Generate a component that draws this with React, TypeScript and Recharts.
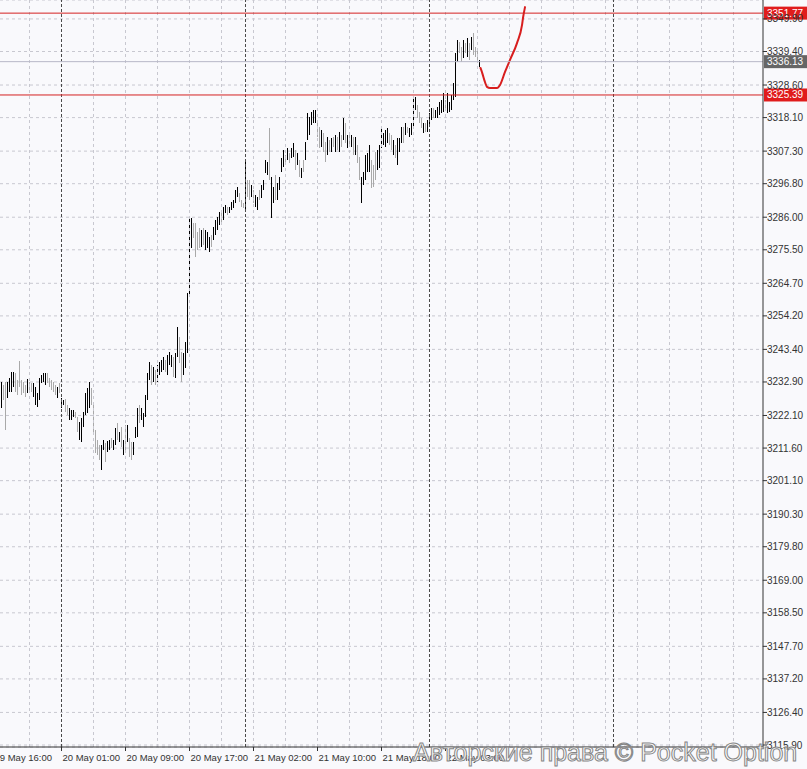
import React from "react";
import { Bar, CartesianGrid, ComposedChart, Line, ReferenceLine, XAxis, YAxis } from "recharts";

// M15 bars, index 0 = 20 May 01:00 (first visible bar is index -30)
const FIRST_BAR = -30;

const highs = [
  3232.9, 3231.9, 3232.9, 3232.9, 3234.2, 3236.1, 3236.1, 3235.8, 3233.5, 3239.6, 3233.5, 3232.9, 3231.9, 3233.8, 3232.9, 3232.6, 3232.6, 3231.3, 3229.3, 3234.2, 3235.1, 3235.8, 3235.8, 3235.8, 3234.2, 3233.5, 3232.9, 3231.9, 3231.3, 3232.6,
  3227.7, 3227.1, 3227.4, 3225.5, 3224.5, 3223.9, 3223.9, 3223.2, 3221.6, 3220.0, 3221.3, 3223.2, 3229.3, 3230.9, 3232.9, 3230.9, 3225.5, 3217.4, 3214.2, 3212.6,
  3212.6, 3214.2, 3213.2, 3213.9, 3214.2, 3214.8, 3214.2, 3218.1, 3219.7, 3216.8, 3218.4, 3214.2, 3219.0, 3219.0, 3214.8, 3213.5, 3213.5, 3218.4,
  3224.5, 3225.5, 3224.5, 3222.9, 3228.7, 3235.8, 3239.3, 3238.4, 3237.7, 3236.7, 3238.4, 3239.3, 3240.0, 3240.9, 3240.0, 3241.6, 3242.6, 3241.6, 3240.9, 3242.2, 3250.6, 3247.4, 3242.6, 3242.2, 3245.8, 3261.6, 3285.7,
  3285.7, 3284.1, 3284.1, 3281.2, 3282.5, 3281.9, 3282.5, 3281.9, 3281.2, 3279.6, 3280.3, 3282.8, 3285.1, 3286.1, 3287.7, 3287.4, 3289.3, 3289.9, 3289.3, 3289.3, 3290.9, 3291.5, 3294.8, 3295.7, 3293.8, 3291.5, 3290.6, 3304.4,
  3298.0, 3298.0, 3296.4, 3294.8, 3293.2, 3292.5, 3294.8, 3296.4, 3298.0, 3304.4, 3303.8, 3314.7, 3299.0, 3295.7, 3299.6, 3297.0, 3299.0, 3305.1, 3307.7, 3306.0, 3308.3, 3306.7, 3308.3, 3309.9, 3307.7, 3306.7, 3304.4,
  3301.9, 3304.4, 3310.2, 3319.6, 3318.3, 3319.9, 3320.5, 3320.5, 3316.7, 3315.1, 3314.1, 3313.1, 3310.2, 3311.8, 3310.9, 3311.5, 3311.8, 3312.5, 3311.8, 3313.5, 3312.5, 3318.0, 3316.4, 3312.5, 3313.1, 3312.5, 3311.8, 3311.8, 3309.3, 3305.4,
  3299.0, 3300.6, 3306.0, 3306.7, 3309.3, 3304.4, 3302.8, 3307.0, 3307.7, 3309.3, 3314.7, 3313.1, 3314.1, 3314.7, 3313.1, 3312.5, 3310.9, 3309.3, 3311.5, 3311.5, 3315.1, 3315.1, 3316.4, 3315.1, 3314.7, 3316.4, 3324.4, 3324.7, 3322.2, 3319.9,
  3318.0, 3316.4, 3316.4, 3317.3, 3319.6, 3321.2, 3321.2, 3320.5, 3321.5, 3323.1, 3323.8, 3326.0, 3323.8, 3326.0, 3323.1, 3325.4, 3329.2, 3338.9, 3343.1, 3342.5, 3340.9, 3343.1, 3342.1, 3343.8, 3342.1, 3344.1, 3345.4, 3340.9, 3339.9, 3336.7,
];

const lows = [
  3224.5, 3227.1, 3217.4, 3227.7, 3229.7, 3229.7, 3231.3, 3229.7, 3228.7, 3231.3, 3228.7, 3229.3, 3228.0, 3229.3, 3230.3, 3229.7, 3228.0, 3225.5, 3224.8, 3227.1, 3232.6, 3232.9, 3231.9, 3232.6, 3231.3, 3230.3, 3229.7, 3228.7, 3227.7, 3229.3,
  3224.5, 3225.5, 3223.2, 3222.2, 3220.6, 3220.6, 3221.6, 3221.3, 3216.8, 3214.2, 3213.5, 3218.4, 3222.2, 3222.9, 3224.5, 3225.5, 3216.8, 3210.0, 3209.4, 3207.7,
  3204.5, 3211.0, 3207.1, 3210.3, 3211.0, 3211.6, 3211.0, 3212.6, 3214.2, 3213.5, 3211.9, 3209.4, 3211.0, 3213.5, 3208.7, 3207.7, 3209.4, 3214.8,
  3215.2, 3219.7, 3220.6, 3218.4, 3221.6, 3227.1, 3233.5, 3231.9, 3232.9, 3231.9, 3232.9, 3235.1, 3236.1, 3236.7, 3236.1, 3235.1, 3238.4, 3237.7, 3234.5, 3234.2, 3240.9, 3239.0, 3232.9, 3235.1, 3237.4, 3242.2, 3260.3,
  3276.1, 3279.3, 3273.2, 3275.4, 3276.1, 3276.4, 3277.0, 3275.4, 3276.1, 3274.8, 3276.4, 3278.6, 3280.3, 3281.9, 3283.5, 3284.4, 3285.1, 3287.4, 3286.7, 3287.4, 3288.3, 3289.0, 3290.6, 3292.5, 3290.9, 3289.3, 3289.0, 3288.3,
  3292.5, 3291.5, 3292.5, 3290.6, 3289.3, 3288.3, 3291.5, 3292.2, 3294.8, 3300.2, 3299.6, 3298.0, 3285.7, 3290.6, 3291.5, 3291.5, 3294.8, 3300.6, 3302.2, 3302.8, 3304.4, 3303.5, 3305.1, 3305.4, 3301.2, 3302.8, 3299.0,
  3298.6, 3300.6, 3304.4, 3310.9, 3312.5, 3315.7, 3316.4, 3316.4, 3311.8, 3308.3, 3308.6, 3307.0, 3303.8, 3306.0, 3307.0, 3307.0, 3308.6, 3307.0, 3307.7, 3307.0, 3308.6, 3310.9, 3309.9, 3308.3, 3308.6, 3308.6, 3306.0, 3306.0, 3303.5, 3298.0,
  3290.6, 3296.4, 3298.0, 3300.6, 3300.6, 3295.4, 3295.7, 3298.0, 3301.2, 3301.9, 3308.3, 3309.3, 3308.6, 3309.9, 3309.3, 3307.7, 3306.0, 3305.1, 3302.8, 3307.0, 3309.9, 3309.9, 3312.5, 3313.1, 3311.8, 3312.5, 3314.7, 3320.5, 3318.0, 3316.4,
  3314.7, 3313.1, 3313.5, 3313.5, 3315.1, 3317.3, 3318.0, 3318.0, 3318.0, 3318.9, 3319.6, 3319.9, 3320.5, 3319.6, 3319.9, 3320.5, 3323.8, 3324.7, 3336.0, 3338.9, 3336.0, 3337.3, 3338.9, 3337.6, 3336.7, 3339.9, 3338.3, 3337.6, 3336.0, 3334.4,
];

const opens = [
  3224.5, 3231.9, 3232.9, 3227.7, 3229.7, 3229.7, 3231.3, 3235.8, 3233.5, 3239.6, 3233.5, 3232.9, 3231.9, 3229.3, 3232.9, 3232.6, 3228.0, 3225.5, 3224.8, 3227.1, 3232.6, 3232.9, 3231.9, 3235.8, 3234.2, 3233.5, 3232.9, 3231.9, 3227.7, 3232.6,
  3224.5, 3225.5, 3227.4, 3225.5, 3220.6, 3220.6, 3221.6, 3223.2, 3221.6, 3214.2, 3213.5, 3218.4, 3222.2, 3222.9, 3224.5, 3230.9, 3225.5, 3217.4, 3214.2, 3212.6,
  3204.5, 3211.0, 3213.2, 3210.3, 3211.0, 3214.8, 3211.0, 3212.6, 3219.7, 3213.5, 3218.4, 3209.4, 3219.0, 3213.5, 3214.8, 3213.5, 3209.4, 3214.8,
  3215.2, 3225.5, 3220.6, 3218.4, 3221.6, 3227.1, 3233.5, 3238.4, 3232.9, 3236.7, 3232.9, 3235.1, 3236.1, 3236.7, 3240.0, 3235.1, 3238.4, 3237.7, 3240.9, 3234.2, 3240.9, 3247.4, 3242.6, 3235.1, 3237.4, 3242.2, 3260.3,
  3276.1, 3284.1, 3284.1, 3281.2, 3282.5, 3276.4, 3282.5, 3275.4, 3276.1, 3274.8, 3280.3, 3278.6, 3280.3, 3281.9, 3283.5, 3287.4, 3285.1, 3287.4, 3289.3, 3287.4, 3288.3, 3289.0, 3290.6, 3292.5, 3293.8, 3291.5, 3290.6, 3288.3,
  3298.0, 3298.0, 3292.5, 3294.8, 3289.3, 3288.3, 3294.8, 3292.2, 3294.8, 3300.2, 3299.6, 3314.7, 3285.7, 3290.6, 3299.6, 3291.5, 3294.8, 3300.6, 3302.2, 3306.0, 3304.4, 3306.7, 3305.1, 3305.4, 3307.7, 3302.8, 3304.4,
  3298.6, 3304.4, 3304.4, 3310.9, 3312.5, 3315.7, 3316.4, 3316.4, 3316.7, 3315.1, 3308.6, 3313.1, 3310.2, 3306.0, 3310.9, 3307.0, 3311.8, 3307.0, 3311.8, 3307.0, 3312.5, 3310.9, 3316.4, 3308.3, 3313.1, 3308.6, 3311.8, 3306.0, 3309.3, 3305.4,
  3290.6, 3296.4, 3298.0, 3300.6, 3300.6, 3304.4, 3302.8, 3307.0, 3301.2, 3301.9, 3308.3, 3309.3, 3308.6, 3309.9, 3313.1, 3312.5, 3306.0, 3309.3, 3302.8, 3307.0, 3309.9, 3315.1, 3312.5, 3315.1, 3311.8, 3312.5, 3314.7, 3320.5, 3322.2, 3319.9,
  3318.0, 3313.1, 3316.4, 3313.5, 3315.1, 3317.3, 3321.2, 3318.0, 3318.0, 3318.9, 3319.6, 3319.9, 3323.8, 3319.6, 3319.9, 3320.5, 3323.8, 3324.7, 3336.0, 3342.5, 3340.9, 3337.3, 3342.1, 3337.6, 3342.1, 3339.9, 3345.4, 3340.9, 3339.9, 3334.4,
];

const closes = [
  3232.9, 3227.1, 3217.4, 3232.9, 3234.2, 3236.1, 3236.1, 3229.7, 3228.7, 3231.3, 3228.7, 3229.3, 3228.0, 3233.8, 3230.3, 3229.7, 3232.6, 3231.3, 3229.3, 3234.2, 3235.1, 3235.8, 3235.8, 3232.6, 3231.3, 3230.3, 3229.7, 3228.7, 3231.3, 3229.3,
  3227.7, 3227.1, 3223.2, 3222.2, 3224.5, 3223.9, 3223.9, 3221.3, 3216.8, 3220.0, 3221.3, 3223.2, 3229.3, 3230.9, 3232.9, 3225.5, 3216.8, 3210.0, 3209.4, 3207.7,
  3212.6, 3214.2, 3207.1, 3213.9, 3214.2, 3211.6, 3214.2, 3218.1, 3214.2, 3216.8, 3211.9, 3214.2, 3211.0, 3219.0, 3208.7, 3207.7, 3213.5, 3218.4,
  3224.5, 3219.7, 3224.5, 3222.9, 3228.7, 3235.8, 3239.3, 3231.9, 3237.7, 3231.9, 3238.4, 3239.3, 3240.0, 3240.9, 3236.1, 3241.6, 3242.6, 3241.6, 3234.5, 3242.2, 3250.6, 3239.0, 3232.9, 3242.2, 3245.8, 3261.6, 3285.7,
  3285.7, 3279.3, 3273.2, 3275.4, 3276.1, 3281.9, 3277.0, 3281.9, 3281.2, 3279.6, 3276.4, 3282.8, 3285.1, 3286.1, 3287.7, 3284.4, 3289.3, 3289.9, 3286.7, 3289.3, 3290.9, 3291.5, 3294.8, 3295.7, 3290.9, 3289.3, 3289.0, 3304.4,
  3292.5, 3291.5, 3296.4, 3290.6, 3293.2, 3292.5, 3291.5, 3296.4, 3298.0, 3304.4, 3303.8, 3298.0, 3299.0, 3295.7, 3291.5, 3297.0, 3299.0, 3305.1, 3307.7, 3302.8, 3308.3, 3303.5, 3308.3, 3309.9, 3301.2, 3306.7, 3299.0,
  3301.9, 3300.6, 3310.2, 3319.6, 3318.3, 3319.9, 3320.5, 3320.5, 3311.8, 3308.3, 3314.1, 3307.0, 3303.8, 3311.8, 3307.0, 3311.5, 3308.6, 3312.5, 3307.7, 3313.5, 3308.6, 3318.0, 3309.9, 3312.5, 3308.6, 3312.5, 3306.0, 3311.8, 3303.5, 3298.0,
  3299.0, 3300.6, 3306.0, 3306.7, 3309.3, 3295.4, 3295.7, 3298.0, 3307.7, 3309.3, 3314.7, 3313.1, 3314.1, 3314.7, 3309.3, 3307.7, 3310.9, 3305.1, 3311.5, 3311.5, 3315.1, 3309.9, 3316.4, 3313.1, 3314.7, 3316.4, 3324.4, 3324.7, 3318.0, 3316.4,
  3314.7, 3316.4, 3313.5, 3317.3, 3319.6, 3321.2, 3318.0, 3320.5, 3321.5, 3323.1, 3323.8, 3326.0, 3320.5, 3326.0, 3323.1, 3325.4, 3329.2, 3338.9, 3343.1, 3338.9, 3336.0, 3343.1, 3338.9, 3343.8, 3336.7, 3344.1, 3338.3, 3337.6, 3336.0, 3336.1,
];

// hand drawn red curve (bar index, price)
const drawBars = [209.5, 210.5, 211.5, 212.75, 214.25, 217.75, 219.25, 221.75, 224.25, 227.75, 230.25, 230.75, 231.75];
const drawPrices = [3334.1, 3332.2, 3330.0, 3328.0, 3327.6, 3327.6, 3328.6, 3332.8, 3336.7, 3342.1, 3347.9, 3350.2, 3353.7];

const priceTicks = [
  3349.9, 3339.4, 3328.6, 3318.1, 3307.3, 3296.8, 3286.0, 3275.5, 3264.7, 3254.2, 3243.4, 3232.9,
  3222.1, 3211.6, 3201.1, 3190.3, 3179.8, 3169.0, 3158.5, 3147.7, 3137.2, 3126.4, 3115.9,
];

const timeTicks = [-34, 0, 32, 64, 96, 128, 160, 192];
const timeLabels = [
  "19 May 16:00", "20 May 01:00", "20 May 09:00", "20 May 17:00",
  "21 May 02:00", "21 May 10:00", "21 May 18:00", "22 May 03:00",
];
const gridBars = [-16, 16, 32, 48, 64, 80, 96, 112, 128, 144, 160, 176, 192, 208, 224, 240, 256, 272, 288, 304, 320, 336];
const daySeparators = [0, 92, 184, 276];

const resistance = 3351.77;
const support = 3325.39;
const lastPrice = 3336.13;

const candles = highs.map((h, i) => ({
  bar: FIRST_BAR + i,
  range: [lows[i], h],
  open: opens[i],
  close: closes[i],
}));
const drawing = drawBars.map((b, i) => ({ bar: b, price: drawPrices[i] }));

const FONT = "'Liberation Sans', Arial, sans-serif";

function Candle(props: any) {
  const { x, y, width, height, payload } = props;
  if (x == null || y == null) return null;
  const cx = Math.floor(x + width / 2);
  const top = Math.min(y, y + height);
  const h = Math.max(1, Math.abs(height));
  const up = payload.close >= payload.open;
  return <rect x={cx} y={Math.round(top)} width={1} height={Math.round(h)} fill={up ? "#000000" : "#a9a9a9"} />;
}

function TimeTick(props: any) {
  const { x, y, payload } = props;
  const i = timeTicks.indexOf(payload.value);
  return (
    <text x={x + 1} y={y + 10} fontSize={9.5} fill="#333" fontFamily={FONT} textAnchor="start">
      {timeLabels[i]}
    </text>
  );
}

function PriceTick(props: any) {
  const { x, y, payload } = props;
  return (
    <text x={x} y={y + 3.5} fontSize={10} fill="#333" fontFamily={FONT} textAnchor="start">
      {payload.value.toFixed(2)}
    </text>
  );
}

function PriceTag(props: any) {
  const { viewBox, color, value } = props;
  if (!viewBox) return null;
  const x = viewBox.x + viewBox.width + 1;
  const y = viewBox.y;
  return (
    <g>
      <rect x={x} y={y - 6.5} width={43} height={13} fill={color} />
      <text x={x + 3} y={y + 3.5} fontSize={10} fill="#fff" fontFamily={FONT}>
        {value.toFixed(2)}
      </text>
    </g>
  );
}

export default function App() {
  return (
    <div style={{ position: "absolute", left: 0, top: 0, width: 807, height: 769, background: "#f9f9fc", overflow: "hidden" }}>
      <ComposedChart width={807} height={769} data={candles} margin={{ top: 0, right: 0, bottom: 0, left: 0 }}>
        <CartesianGrid vertical={false} stroke="#c8c8d0" strokeDasharray="3 3" />
        {gridBars.map((b) => (
          <ReferenceLine key={"g" + b} x={b} stroke="#c8c8d0" strokeDasharray="3 3" />
        ))}
        {daySeparators.map((b) => (
          <ReferenceLine key={"d" + b} x={b} stroke="#4a4a4a" strokeDasharray="3 2" />
        ))}
        <XAxis
          dataKey="bar"
          type="number"
          domain={[-30.75, 350.75]}
          allowDataOverflow
          ticks={timeTicks}
          tick={<TimeTick />}
          tickSize={4}
          tickMargin={0}
          height={22}
          stroke="#333"
          interval={0}
        />
        <YAxis
          orientation="right"
          type="number"
          domain={[3115.26, 3356.0]}
          allowDataOverflow
          ticks={priceTicks}
          tick={<PriceTick />}
          tickSize={4}
          tickMargin={0}
          width={44}
          stroke="#333"
          interval={0}
        />
        <Bar dataKey="range" barSize={1} shape={<Candle />} isAnimationActive={false} />
        <Line
          data={drawing}
          dataKey="price"
          type="monotone"
          stroke="#d81e1e"
          strokeWidth={2}
          strokeLinecap="round"
          dot={false}
          activeDot={false}
          isAnimationActive={false}
        />
        <ReferenceLine y={lastPrice} stroke="#b8b8c8" label={<PriceTag color="#666" value={lastPrice} />} />
        <ReferenceLine y={resistance} stroke="#d42020" label={<PriceTag color="#e01c1c" value={resistance} />} />
        <ReferenceLine y={support} stroke="#d42020" label={<PriceTag color="#e01c1c" value={support} />} />
      </ComposedChart>
      <div
        style={{
          position: "absolute",
          left: 413,
          top: 740,
          fontFamily: FONT,
          fontSize: 25,
          lineHeight: "25px",
          color: "#ffffff",
          WebkitTextStroke: "1px #858585",
          whiteSpace: "nowrap",
          pointerEvents: "none",
        }}
      >
        Авторские права © Pocket Option
      </div>
    </div>
  );
}
